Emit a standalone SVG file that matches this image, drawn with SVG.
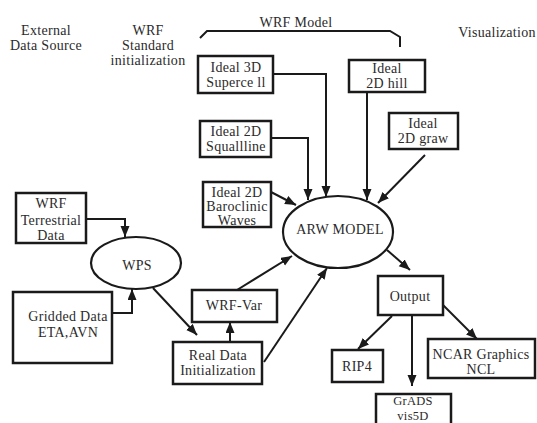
<svg xmlns="http://www.w3.org/2000/svg" width="537" height="423" viewBox="0 0 537 423">
<style>
text{font-family:"Liberation Serif","Times New Roman",serif;font-size:14px;fill:#2b2b2b;text-anchor:middle;letter-spacing:0.3px}
.box{fill:#fff;stroke:#1a1a1a;stroke-width:2.5}
.ell{fill:#fff;stroke:#1a1a1a;stroke-width:2.2}
.con{fill:none;stroke:#1a1a1a;stroke-width:2}
.sm{font-size:12.5px}
</style>
<defs>
<marker id="ah" markerUnits="userSpaceOnUse" markerWidth="12" markerHeight="10" refX="11" refY="4.5" orient="auto">
<path d="M0,0 L11,4.5 L0,9 z" fill="#1a1a1a"/>
</marker>
</defs>
<rect width="537" height="423" fill="#fff"/>
<g id="headers">
<text x="46" y="35">External</text>
<text x="46" y="50">Data Source</text>
<text x="148" y="35">WRF</text>
<text x="148" y="50">Standard</text>
<text x="148" y="65">initialization</text>
<text x="296" y="27">WRF Model</text>
<text x="497" y="37">Visualization</text>
<path class="con" d="M200,38 L207,31 L390,31 L400,37 L400,47"/>
</g>
<g id="connectors">
<path class="con" d="M273,74 H326 V197" marker-end="url(#ah)"/>
<path class="con" d="M271,138 H308 V200" marker-end="url(#ah)"/>
<path class="con" d="M367,92 V200" marker-end="url(#ah)"/>
<path class="con" d="M425,155 L378,203" marker-end="url(#ah)"/>
<path class="con" d="M271,192 L296,205" marker-end="url(#ah)"/>
<path class="con" d="M237,290 L292,256" marker-end="url(#ah)"/>
<path class="con" d="M264,362 L327,268" marker-end="url(#ah)"/>
<path class="con" d="M230,342 V322" marker-end="url(#ah)"/>
<path class="con" d="M153,288 L197,335" marker-end="url(#ah)"/>
<path class="con" d="M86,219 H125 V237" marker-end="url(#ah)"/>
<path class="con" d="M112,313 H132 V289" marker-end="url(#ah)"/>
<path class="con" d="M387,250 L410,270" marker-end="url(#ah)"/>
<path class="con" d="M392,316 L358,349" marker-end="url(#ah)"/>
<path class="con" d="M412,315 V386" marker-end="url(#ah)"/>
<path class="con" d="M443,305 L477,339" marker-end="url(#ah)"/>
</g>
<g id="ideal3d"><rect class="box" x="198" y="56" width="75" height="37"/><text x="236" y="72">Ideal 3D</text><text x="236" y="87">Superce ll</text></g>
<g id="ideal2dsquall"><rect class="box" x="200" y="121" width="71" height="36"/><text x="236" y="136">Ideal 2D</text><text x="236" y="151">Squallline</text></g>
<g id="ideal2dbaro"><rect class="box" x="203" y="182" width="68" height="45"/><text x="237" y="197">Ideal 2D</text><text x="237" y="211">Baroclinic</text><text x="237" y="225">Waves</text></g>
<g id="ideal2dhill"><rect class="box" x="349" y="60" width="76" height="32"/><text x="387" y="73">Ideal</text><text x="387" y="88">2D hill</text></g>
<g id="ideal2dgraw"><rect class="box" x="389" y="113" width="69" height="36"/><text x="423" y="128">Ideal</text><text x="423" y="143">2D graw</text></g>
<g id="arw"><ellipse class="ell" cx="338" cy="232" rx="55" ry="36"/><text x="340" y="234">ARW MODEL</text></g>
<g id="terrestrial"><rect class="box" x="16" y="193" width="70" height="50"/><text x="51" y="208">WRF</text><text x="51" y="225">Terrestrial</text><text x="51" y="240">Data</text></g>
<g id="wps"><ellipse class="ell" cx="136" cy="263" rx="45" ry="26"/><text x="137" y="270">WPS</text></g>
<g id="gridded"><rect class="box" x="13" y="292" width="99" height="71"/><text x="68" y="321">Gridded Data</text><text x="68" y="337">ETA,AVN</text></g>
<g id="wrfvar"><rect class="box" x="192" y="290" width="85" height="32"/><text x="234" y="310">WRF-Var</text></g>
<g id="realdata"><rect class="box" x="173" y="342" width="89" height="42"/><text x="218" y="360">Real Data</text><text x="218" y="375">Initialization</text></g>
<g id="output"><rect class="box" x="378" y="276" width="65" height="39"/><text x="410" y="301">Output</text></g>
<g id="rip4"><rect class="box" x="332" y="350" width="51" height="32"/><text x="357" y="371">RIP4</text></g>
<g id="ncar"><rect class="box" x="428" y="339" width="107" height="39"/><text x="481" y="359">NCAR Graphics</text><text x="481" y="374">NCL</text></g>
<g id="grads"><rect class="box" x="376" y="394" width="75" height="40"/><text class="sm" x="413" y="405">GrADS</text><text class="sm" x="413" y="420">vis5D</text></g>
</svg>
